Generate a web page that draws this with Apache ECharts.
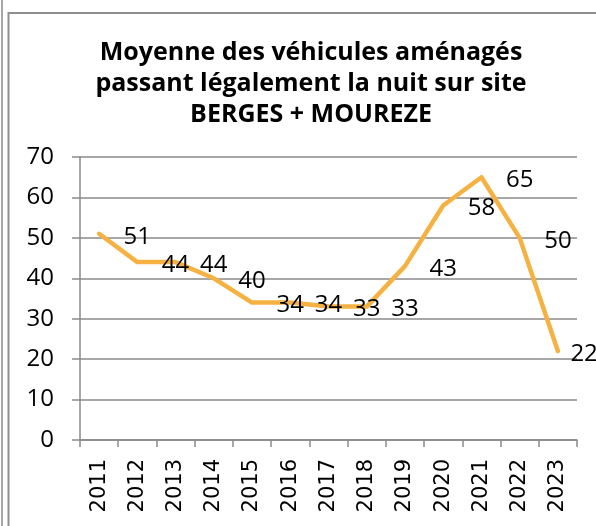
<!DOCTYPE html>
<html>
<head>
<meta charset="utf-8">
<script src="https://cdn.jsdelivr.net/npm/echarts@6/dist/echarts.min.js"></script>
<style>html,body{margin:0;padding:0;background:#fff}#c{width:596px;height:526px}</style>
</head>
<body>
<div id="c"></div>
<script>
var titleText = 'Moyenne des véhicules aménagés\npassant légalement la nuit sur site\nBERGES + MOUREZE';
var categories = ['2011','2012','2013','2014','2015','2016','2017','2018','2019','2020','2021','2022','2023'];
var values = [51, 44, 44, 40, 34, 34, 33, 33, 43, 58, 65, 50, 22];
var yTicks = [0, 10, 20, 30, 40, 50, 60, 70];

var chart = echarts.init(document.getElementById('c'), null, {renderer: 'canvas'});
var lastIdx = values.length - 1;
var seriesData = values.map(function (v, i) {
  if (i === lastIdx) return {value: v, label: {distance: 12}};
  return v;
});
chart.setOption({
  backgroundColor: '#ffffff',
  animation: false,
  title: {
    text: titleText,
    left: 306,
    top: 32,
    textAlign: 'center',
    textStyle: {fontFamily: 'Open Sans', fontWeight: 'bold', fontSize: 25, lineHeight: 31, color: '#000'}
  },
  graphic: [
    {type: 'line', shape: {x1: 2, y1: 0, x2: 2, y2: 526}, style: {stroke: '#a6a6a6', lineWidth: 2}},
    {type: 'rect', shape: {x: 8.5, y: 13, width: 700, height: 700}, style: {fill: 'none', stroke: '#8f8f8f', lineWidth: 2}}
  ],
  grid: {left: 80, top: 157, width: 497, height: 283, outerBoundsMode: 'none', containLabel: false},
  xAxis: {
    type: 'category',
    data: categories,
    boundaryGap: true,
    axisLine: {lineStyle: {color: '#8a8a8a', width: 1.5}},
    axisTick: {show: true, length: 7, lineStyle: {color: '#8a8a8a', width: 1.5}},
    axisLabel: {rotate: 90, margin: 19, fontFamily: 'DejaVu Sans', fontSize: 21, color: '#000', interval: 0}
  },
  yAxis: {
    type: 'value',
    min: yTicks[0],
    max: yTicks[yTicks.length - 1],
    interval: 10,
    axisLine: {show: true, lineStyle: {color: '#8a8a8a', width: 1.5}},
    axisTick: {show: true, length: 8, lineStyle: {color: '#8a8a8a', width: 1.5}},
    splitLine: {lineStyle: {color: '#8a8a8a', width: 1.5}},
    axisLabel: {margin: 26, fontFamily: 'Open Sans', fontSize: 24, color: '#000'}
  },
  series: [{
    type: 'line',
    data: seriesData,
    symbol: 'circle',
    symbolSize: 1,
    showSymbol: true,
    lineStyle: {color: '#F5B243', width: 4.5, cap: 'round', join: 'round'},
    itemStyle: {color: 'rgba(0,0,0,0)'},
    label: {show: true, position: 'right', distance: 24, offset: [0, 3], fontFamily: 'Open Sans', fontSize: 24, color: '#000'}
  }]
});
</script>
</body>
</html>
